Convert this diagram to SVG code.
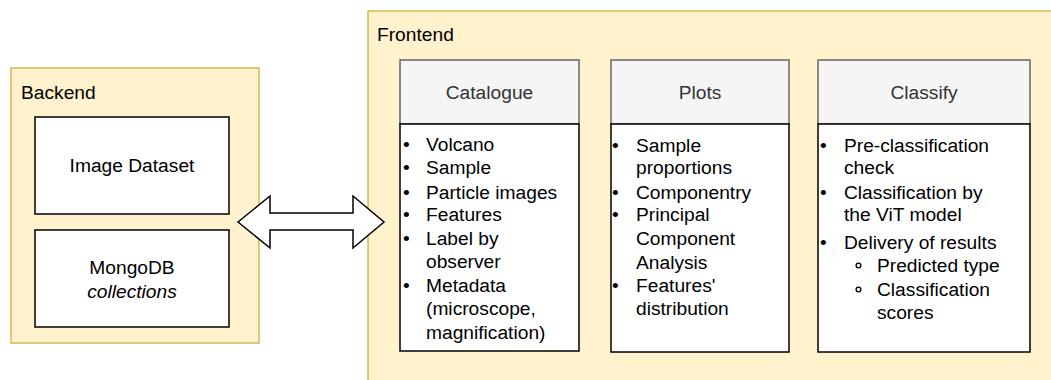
<svg xmlns="http://www.w3.org/2000/svg" width="1051" height="380" viewBox="0 0 1051 380">
<style>
.cont{fill:#fff2cc;stroke:#d6b656;stroke-width:1.5}
.box{fill:#ffffff;stroke:#000000;stroke-width:1.5}
.hdr{fill:#f5f5f5;stroke:#666666;stroke-width:1.5}
.sub{fill:none;stroke:#000000;stroke-width:1.3}
text{font-family:"Liberation Sans",Arial,sans-serif;font-size:19.2px;fill:#000}
.ht{fill:#333333;text-anchor:middle}
.c{text-anchor:middle}
</style>
<rect width="1051" height="380" fill="#ffffff"/>
<g id="backend">
<rect class="cont" x="11" y="68" width="248" height="275"/>
<text x="21" y="99">Backend</text>
</g>
<g id="image-dataset">
<rect class="box" x="35" y="117" width="194" height="97"/>
<text class="c" x="132" y="172">Image Dataset</text>
</g>
<g id="mongodb">
<rect class="box" x="35" y="230" width="194" height="97"/>
<text class="c" x="132" y="274">MongoDB</text>
<text class="c" x="132" y="298" font-style="italic">collections</text>
</g>
<g id="frontend">
<rect class="cont" x="368" y="11" width="700" height="380"/>
<text x="377" y="41">Frontend</text>
</g>
<g id="catalogue">
<rect class="hdr" x="400" y="60" width="179" height="64"/>
<text class="ht" x="489.5" y="99">Catalogue</text>
<rect class="box" x="400" y="124" width="179" height="227"/>
<g>
<text x="403" y="151">•</text><text x="426" y="151">Volcano</text>
<text x="403" y="174">•</text><text x="426" y="174">Sample</text>
<text x="403" y="198.5">•</text><text x="426" y="198.5">Particle images</text>
<text x="403" y="221">•</text><text x="426" y="221">Features</text>
<text x="403" y="245">•</text><text x="426" y="245">Label by</text>
<text x="426" y="268">observer</text>
<text x="403" y="292">•</text><text x="426" y="292">Metadata</text>
<text x="426" y="315">(microscope,</text>
<text x="426" y="339">magnification)</text>
</g>
</g>
<g id="plots">
<rect class="hdr" x="611" y="60" width="178" height="64"/>
<text class="ht" x="700" y="99">Plots</text>
<rect class="box" x="611" y="124" width="178" height="228"/>
<text x="612" y="152">•</text><text x="636" y="152">Sample</text>
<text x="636" y="174">proportions</text>
<text x="612" y="198.5">•</text><text x="636" y="198.5">Componentry</text>
<text x="612" y="221">•</text><text x="636" y="221">Principal</text>
<text x="636" y="245">Component</text>
<text x="636" y="269">Analysis</text>
<text x="612" y="292">•</text><text x="636" y="292">Features'</text>
<text x="636" y="315">distribution</text>
</g>
<g id="classify">
<rect class="hdr" x="818" y="60" width="212" height="64"/>
<text class="ht" x="924" y="99">Classify</text>
<rect class="box" x="818" y="124" width="212" height="228"/>
<text x="820" y="152">•</text><text x="844" y="152">Pre-classification</text>
<text x="844" y="174">check</text>
<text x="820" y="198.5">•</text><text x="844" y="198.5">Classification by</text>
<text x="844" y="221">the ViT model</text>
<text x="820" y="249">•</text><text x="844" y="249">Delivery of results</text>
<circle class="sub" cx="858.5" cy="265.5" r="2.4"/><text x="877" y="272">Predicted type</text>
<circle class="sub" cx="858.5" cy="289.5" r="2.4"/><text x="877" y="296">Classification</text>
<text x="877" y="319">scores</text>
</g>
<g id="connectors">
<path d="M238,222 L270,196 L270,213 L353,213 L353,196 L384,222 L353,248 L353,230 L270,230 L270,248 Z" fill="#ffffff" stroke="#000000" stroke-width="1.5" stroke-linejoin="miter"/>
</g>
</svg>
